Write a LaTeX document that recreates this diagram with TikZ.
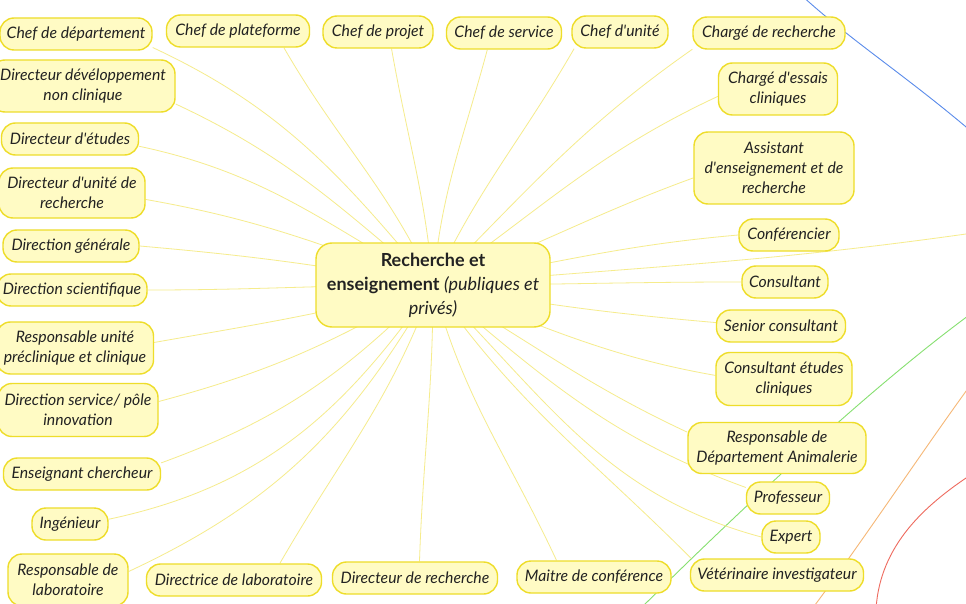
\documentclass[tikz,border=0pt]{standalone}
\usepackage{fontspec}
\setmainfont{Lato}
\usetikzlibrary{backgrounds}
\definecolor{fl}{HTML}{FFFBC4}
\definecolor{bd}{HTML}{EEDD2A}
\definecolor{lk}{HTML}{F6EC8C}
\definecolor{tx}{HTML}{222222}
\definecolor{cblue}{HTML}{5B8CEB}
\definecolor{cgreen}{HTML}{86E070}
\definecolor{corange}{HTML}{F6B877}
\definecolor{cred}{HTML}{EE6A5E}
\newcommand\aq{\textquotesingle}
\begin{document}
\begin{tikzpicture}[x=1pt,y=-1pt,
  leaf/.style={draw=bd, fill=fl, line width=1.4pt, rounded corners=14pt, align=center,
    font=\fontsize{15.8}{20}\selectfont\itshape, text=tx, inner xsep=2pt, inner ysep=0pt, minimum height=32pt},
  hub/.style={draw=bd, fill=fl, line width=1.4pt, rounded corners=16pt, align=center,
    font=\fontsize{18}{24}\selectfont, text=tx, inner xsep=2pt, minimum width=234pt, minimum height=84pt},
  link/.style={draw=lk, line width=0.8pt},
  farlink/.style={line width=0.9pt}]
\useasboundingbox (0,0) rectangle (966,604);

\node[hub] (c) at (433,285) {\textbf{Recherche et}\\\textbf{enseignement} \textit{(publiques et}\\\textit{privés)}};

\node[leaf, minimum width=152pt] (dep) at (76,34) {Chef de département};
\node[leaf, minimum width=184pt, minimum height=52pt] (dev) at (83,86) {Directeur dévéloppement\\non clinique};
\node[leaf, minimum width=137pt] (etu) at (70,139) {Directeur d\aq études};
\node[leaf, minimum width=146pt, minimum height=50pt] (uni) at (72,193) {Directeur d\aq unité de\\recherche};
\node[leaf, minimum width=136pt] (gen) at (71,246) {Direction générale};
\node[leaf, minimum width=150pt] (sci) at (72,290) {Direction scientifique};
\node[leaf, minimum width=157pt, minimum height=52pt] (rup) at (75,348) {Responsable unité\\préclinique et clinique};
\node[leaf, minimum width=160pt, minimum height=53pt] (dsp) at (78,410) {Direction service/ pôle\\innovation};
\node[leaf, minimum width=157pt] (ens) at (82,474) {Enseignant chercheur};
\node[leaf, minimum width=76pt] (ing) at (70,524) {Ingénieur};
\node[leaf, minimum width=120pt, minimum height=52pt] (rlb) at (68,580) {Responsable de\\laboratoire};
\node[leaf, minimum width=175pt] (dlb) at (234,580) {Directrice de laboratoire};
\node[leaf, minimum width=165pt] (dre) at (415,578) {Directeur de recherche};
\node[leaf, minimum width=154pt] (mco) at (594,577) {Maitre de conférence};
\node[leaf, minimum width=173pt] (vet) at (777,575) {Vétérinaire investigateur};
\node[leaf, minimum width=58pt] (exp) at (791,537) {Expert};
\node[leaf, minimum width=83pt] (pro) at (788,498) {Professeur};
\node[leaf, minimum width=178pt, minimum height=51pt] (rda) at (777,448) {Responsable de\\Département Animalerie};
\node[leaf, minimum width=136pt, minimum height=53pt] (cec) at (784,379) {Consultant études\\cliniques};
\node[leaf, minimum width=129pt] (sen) at (781,326) {Senior consultant};
\node[leaf, minimum width=86pt] (con) at (785,282) {Consultant};
\node[leaf, minimum width=100pt] (cnf) at (789,235) {Conférencier};
\node[leaf, minimum width=160pt, minimum height=72pt] (ass) at (774,168) {Assistant\\d\aq enseignement et de\\recherche};
\node[leaf, minimum width=119pt, minimum height=52pt] (ces) at (778,89) {Chargé d\aq essais\\cliniques};
\node[leaf, minimum width=152pt] (cre) at (769,33) {Chargé de recherche};
\node[leaf, minimum width=96pt] (cun) at (620,32) {Chef d\aq unité};
\node[leaf, minimum width=115pt] (cse) at (504,33) {Chef de service};
\node[leaf, minimum width=110pt] (cpj) at (378,32) {Chef de projet};
\node[leaf, minimum width=143pt] (cpf) at (238,31) {Chef de plateforme};

\coordinate (offR) at (966,234);
\coordinate (b1) at (800,-6);  \coordinate (b2) at (972,132);
\coordinate (g1) at (640,609); \coordinate (g2) at (972,313);
\coordinate (o1) at (812,609); \coordinate (o2) at (972,383);
\coordinate (r1) at (972,474); \coordinate (r2) at (876,609);

\begin{pgfonlayer}{background}
\fill[white] (0,0) rectangle (966,604);
\draw[farlink, cblue] (b1) .. controls (850,40) and (905,75) .. (b2);
\draw[farlink, cgreen] (g1) .. controls (720,530) and (860,395) .. (g2);
\draw[farlink, corange] (o1) .. controls (860,545) and (930,440) .. (o2);
\draw[farlink, cred] (r1) .. controls (925,505) and (880,545) .. (r2);

\draw[link] (c.center) to[out=130,in=-25] (dep.-10);
\draw[link] (c.center) to[out=140,in=-25] (dev.-11);
\draw[link] (c.center) to[out=150,in=-12] (etu.-6);
\draw[link] (c.center) to[out=160,in=-10] (uni.-5);
\draw[link] (c.center) to[out=170,in=-5] (gen.east);
\draw[link] (c.center) to[out=180,in=0] (sci.east);
\draw[link] (c.center) to[out=195,in=10] (rup.4);
\draw[link] (c.center) to[out=210,in=15] (dsp.6);
\draw[link] (c.center) to[out=225,in=20] (ens.8);
\draw[link] (c.center) to[out=235,in=12] (ing.7);
\draw[link] (c.center) to[out=240,in=25] (rlb.8);
\draw[link] (c.center) to[out=250,in=60] (dlb.20);
\draw[link] (c.center) to[out=270,in=88] (dre.75);
\draw[link] (c.center) to[out=285,in=115] (mco.156);
\draw[link] (c.center) to[out=305,in=135] (vet.169);
\draw[link] (c.center) to[out=315,in=165] (exp.west);
\draw[link] (c.center) to[out=320,in=160] (pro.166);
\draw[link] (c.center) to[out=330,in=155] (rda.170);
\draw[link] (c.center) to[out=340,in=170] (cec.177);
\draw[link] (c.center) to[out=350,in=175] (sen.177);
\draw[link] (c.center) to[out=0,in=180] (con.west);
\draw[link] (c.center) to[out=10,in=185] (cnf.west);
\draw[link] (c.center) to[out=20,in=200] (ass.187);
\draw[link] (c.center) to[out=35,in=205] (ces.187);
\draw[link] (c.center) to[out=45,in=215] (cre.192);
\draw[link] (c.center) to[out=65,in=240] (cun.200);
\draw[link] (c.center) to[out=85,in=255] (cse.225);
\draw[link] (c.center) to[out=95,in=280] (cpj.309);
\draw[link] (c.center) to[out=115,in=300] (cpf.340);
\draw[link] (c.center) to[out=5,in=188] (offR);
\end{pgfonlayer}
\end{tikzpicture}
\end{document}
